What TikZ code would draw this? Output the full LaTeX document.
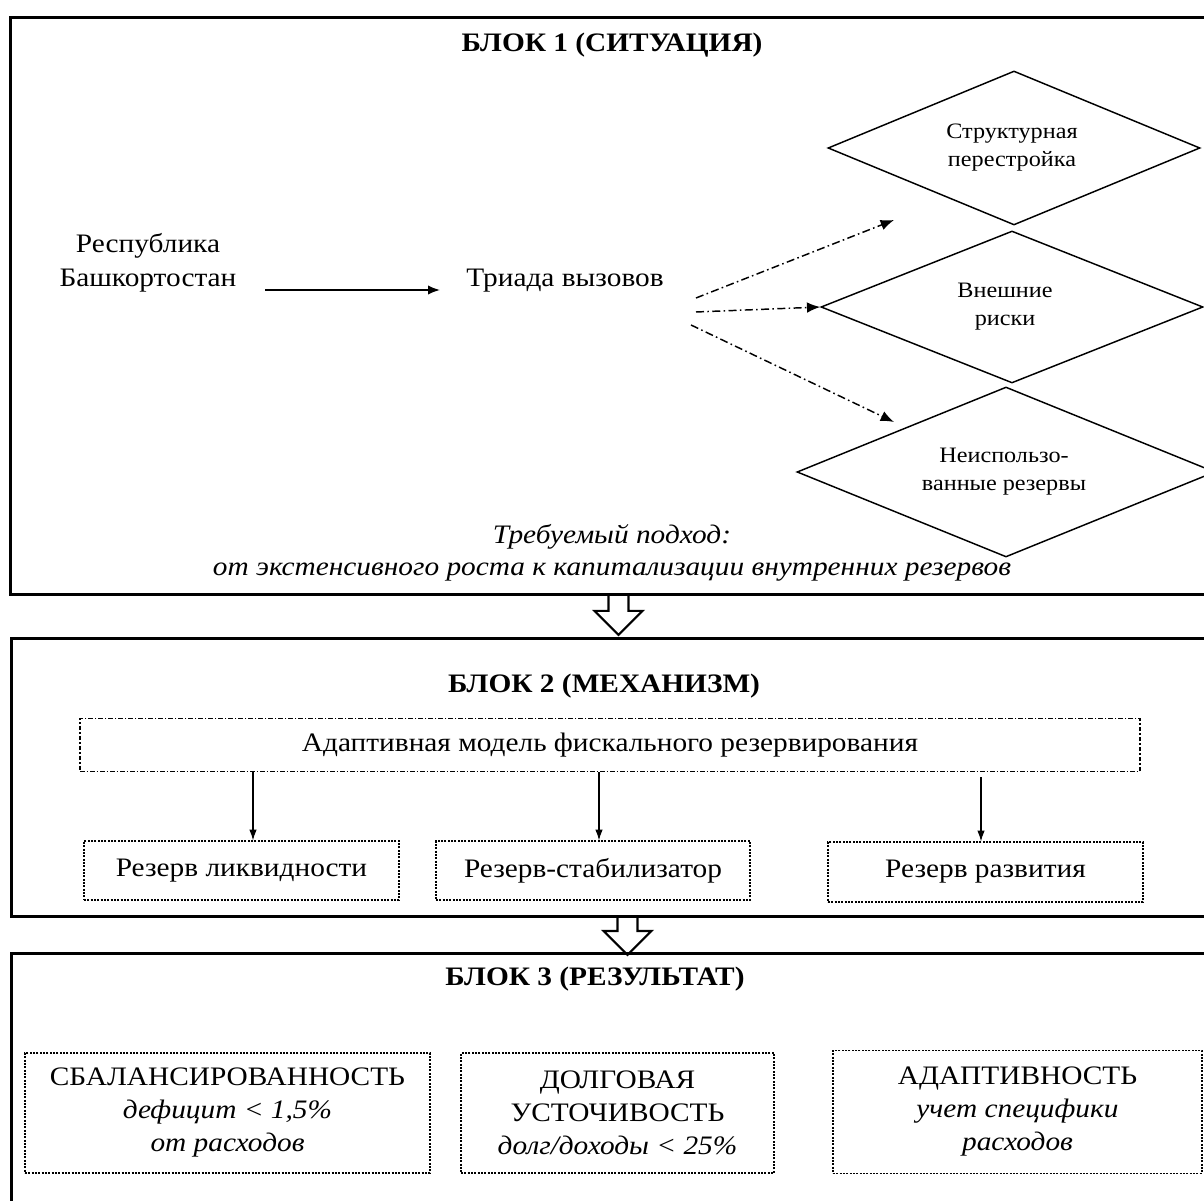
\documentclass[tikz,border=0pt]{standalone}
\usepackage{fontspec}
\setmainfont[FakeStretch=1.1]{Liberation Serif}
\usetikzlibrary{shapes.geometric,arrows.meta}
\begin{document}
\begin{tikzpicture}[x=0.75pt,y=-0.75pt,
  blockframe/.style={draw,line width=2.2pt,minimum width=915pt,anchor=north west,inner sep=0pt},
  maintext/.style={font=\fontsize{20}{25.5}\selectfont,align=center,inner sep=0pt},
  titletext/.style={font=\fontsize{20}{24}\selectfont\bfseries,inner sep=0pt},
  dtext/.style={font=\fontsize{16.5}{21}\selectfont,align=center,inner sep=0pt},
  rhomb/.style={diamond,draw,line width=1.1pt,inner sep=0pt,aspect=2.4},
  dotbox/.style={draw,line width=0.9pt,dash pattern=on 1.6pt off 0.9pt,inner sep=0pt,align=center,font=\fontsize{20}{24.75}\selectfont},
  modelbox/.style={draw,line width=0.8pt,dash pattern=on 3.5pt off 1.5pt on 1pt off 1.5pt,inner sep=0pt,font=\fontsize{20}{24}\selectfont},
  arr/.style={-{Latex[length=9pt,width=7pt]},line width=1.2pt},
  thinarr/.style={-{Latex[length=8pt,width=5.5pt]},line width=0.8pt},
  dasharr/.style={-{Latex[length=10pt,width=8pt]},line width=1.1pt,dash pattern=on 6pt off 2.5pt on 1.2pt off 2.5pt},
  hollow/.style={draw,line width=1.6pt,line join=miter}
]
\useasboundingbox (0,0) rectangle (1204,1201);
\clip (0,0) rectangle (1204,1201);
\fill[white] (0,0) rectangle (1204,1201);

% block frames
\node[blockframe,minimum height=432.75pt] (blk1) at (9,16) {};
\node[blockframe,minimum height=208.5pt] (blk2) at (10,637) {};
\node[blockframe,minimum height=300pt] (blk3) at (10,952) {};

% block 1
\node[titletext] (t1) at (612,45) {БЛОК 1 (СИТУАЦИЯ)};
\node[maintext] (resp) at (148,263) {Республика\\Башкортостан};
\node[maintext] (triada) at (565,281) {Триада вызовов};

\node[rhomb,minimum width=279pt,minimum height=115.5pt] (d1) at (1014,148) {};
\node[rhomb,minimum width=286.5pt,minimum height=114pt] (d2) at (1012,307) {};
\node[rhomb,minimum width=313.5pt,minimum height=127.5pt] (d3) at (1006,472) {};
\node[dtext] (d1t) at (1012,148) {Структурная\\перестройка};
\node[dtext] (d2t) at (1005,307) {Внешние\\риски};
\node[dtext] (d3t) at (1004,472) {Неиспользо-\\ванные резервы};

\coordinate (e1) at (894,220);
\coordinate (e3) at (894,422);
\coordinate (s1) at (696,298);
\coordinate (s2) at (696,312);
\coordinate (s3) at (691,325);
\coordinate (ra) at (265,290);
\coordinate (rb) at (440,290);

\draw[arr] (ra) -- (rb);
\draw[dasharr] (s1) -- (e1);
\draw[dasharr] (s2) -- (d2.west);
\draw[dasharr] (s3) -- (e3);

\node[maintext,font=\fontsize{20}{24}\selectfont\itshape] (appr) at (612,553)
  {Требуемый подход:\\от экстенсивного роста к капитализации внутренних резервов};

% hollow arrow 1
\draw[hollow] ([xshift=-9pt]blk1.south) -- ++(0,15) -- ++(-14,0) -- ++(24,24) -- ++(24,-24) -- ++(-14,0) -- ++(0,-15);

% block 2
\node[titletext] (t2) at (604,686) {БЛОК 2 (МЕХАНИЗМ)};
\node[modelbox,minimum width=795pt,minimum height=39.75pt] (model) at (610,745)
  {Адаптивная модель фискального резервирования};
\node[dotbox,minimum width=236.25pt,minimum height=44.25pt] (b1) at (241.5,870.5) {Резерв ликвидности};
\node[dotbox,minimum width=235.5pt,minimum height=44.25pt] (b2) at (593,870.5) {Резерв-стабилизатор};
\node[dotbox,minimum width=236.25pt,minimum height=45pt] (b3) at (985.5,872) {Резерв развития};

\coordinate (x1) at (253,0);
\coordinate (x2) at (599,0);
\coordinate (x3) at (981,0);
\draw[thinarr] (model.south -| x1) -- (b1.north -| x1);
\draw[thinarr] (model.south -| x2) -- (b2.north -| x2);
\draw[thinarr] ([yshift=-4pt]model.south -| x3) -- (b3.north -| x3);

% hollow arrow 2
\draw[hollow] ([xshift=-3pt]blk2.south) -- ++(0,13) -- ++(-14,0) -- ++(24,24) -- ++(24,-24) -- ++(-14,0) -- ++(0,-13);

% block 3
\node[titletext] (t3) at (595,979) {БЛОК 3 (РЕЗУЛЬТАТ)};
\node[dotbox,minimum width=303.75pt,minimum height=90pt] (c1) at (227.5,1113)
  {СБАЛАНСИРОВАННОСТЬ\\\textit{дефицит < 1,5\%}\\\textit{от расходов}};
\node[dotbox,minimum width=234.75pt,minimum height=90pt] (c2) at (617.5,1113)
  {ДОЛГОВАЯ\\УСТОЧИВОСТЬ\\\textit{долг/доходы < 25\%}};
\node[dotbox,minimum width=276.75pt,minimum height=92pt] (c3) at (1017.5,1112)
  {АДАПТИВНОСТЬ\\\textit{учет специфики}\\\textit{расходов}};
\end{tikzpicture}
\end{document}
